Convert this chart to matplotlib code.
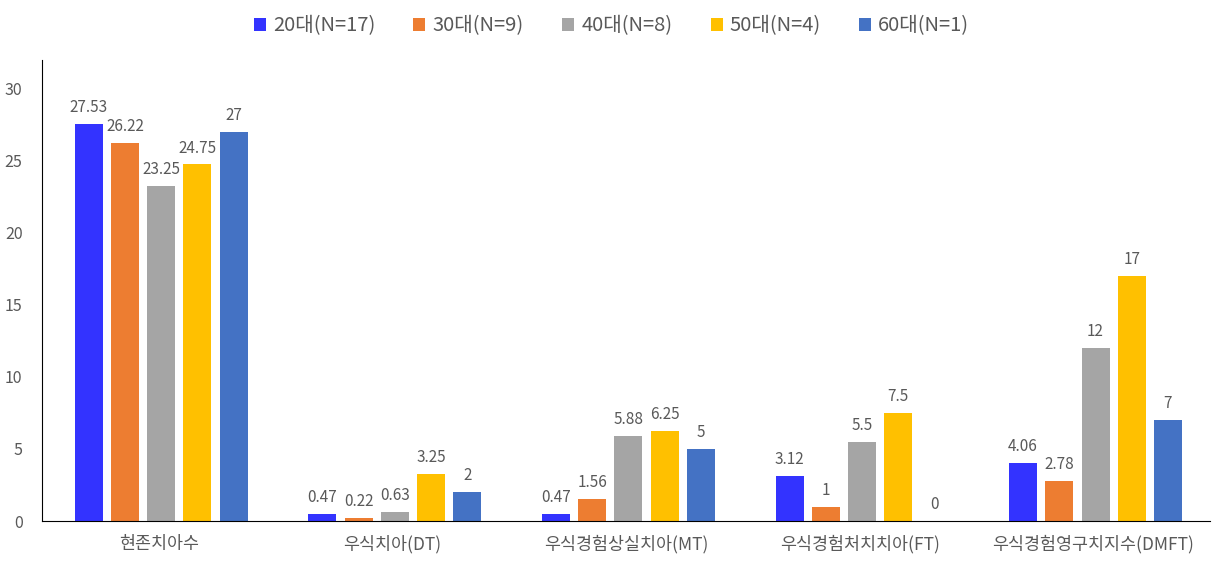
import numpy as np
import matplotlib
matplotlib.use('Agg')
from matplotlib import pyplot as plt

plt.rcParams['font.family'] = ['Noto Sans CJK KR', 'DejaVu Sans']

categories = ['현존치아수', '우식치아(DT)', '우식경험상실치아(MT)', '우식경험처치치아(FT)', '우식경험영구치지수(DMFT)']
series_names = ['20대(N=17)', '30대(N=9)', '40대(N=8)', '50대(N=4)', '60대(N=1)']
v20 = [27.53, 0.47, 0.47, 3.12, 4.06]
v30 = [26.22, 0.22, 1.56, 1, 2.78]
v40 = [23.25, 0.63, 5.88, 5.5, 12]
v50 = [24.75, 3.25, 6.25, 7.5, 17]
v60 = [27, 2, 5, 0, 7]
labels20 = ['27.53', '0.47', '0.47', '3.12', '4.06']
labels30 = ['26.22', '0.22', '1.56', '1', '2.78']
labels40 = ['23.25', '0.63', '5.88', '5.5', '12']
labels50 = ['24.75', '3.25', '6.25', '7.5', '17']
labels60 = ['27', '2', '5', '0', '7']

colors = ['#3333FF', '#ED7D31', '#A5A5A5', '#FFC000', '#4472C4']
text_color = '#595959'

fig = plt.figure(figsize=(12.23, 5.67), dpi=100)
ax = fig.add_axes([42 / 1223, 1 - 521 / 567, 1168 / 1223, 461 / 567])

x = np.arange(len(categories))
width = 0.12
step = 0.155
all_vals = [v20, v30, v40, v50, v60]
all_labels = [labels20, labels30, labels40, labels50, labels60]
for i, (vals, labs) in enumerate(zip(all_vals, all_labels)):
    pos = x + (i - 2) * step + 0.01
    ax.bar(pos, vals, width, color=colors[i], label=series_names[i])
    for p, v, t in zip(pos, vals, labs):
        ax.text(p, v + 0.55, t, ha='center', va='bottom', fontsize=11, color=text_color)

ax.set_xlim(-0.5, 4.5)
ax.set_ylim(0, 32)
ax.set_yticks([0, 5, 10, 15, 20, 25, 30])
ax.set_xticks(x)
ax.set_xticklabels(categories, fontsize=12.5, color=text_color)
ax.tick_params(axis='y', length=0, labelsize=11.5, labelcolor=text_color, pad=14)
ax.tick_params(axis='x', length=0, pad=10)
for s in ['top', 'right']:
    ax.spines[s].set_visible(False)
ax.spines['left'].set_color('black')
ax.spines['bottom'].set_color('black')

fig.legend(loc='upper center', bbox_to_anchor=(0.5, 1.005), ncol=5, frameon=False,
           fontsize=14.5, labelcolor=text_color, handlelength=0.6, handleheight=0.6,
           handletextpad=0.35, columnspacing=1.9)

fig.savefig('out.png', dpi=100)
